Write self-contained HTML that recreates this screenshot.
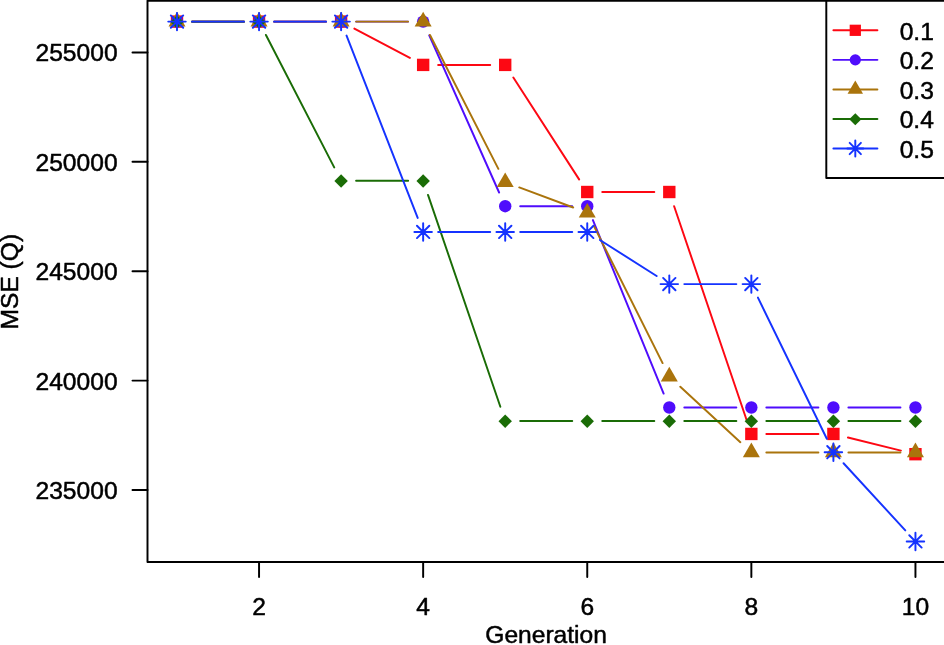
<!DOCTYPE html>
<html lang="en"><head><meta charset="utf-8"><title>MSE (Q) by Generation</title>
<style>html,body{margin:0;padding:0;background:#fff}body{width:944px;height:645px;overflow:hidden}svg{display:block}text{font-family:"Liberation Sans",Arial,Helvetica,sans-serif;font-size:24.6px;fill:#000;stroke:#000;stroke-width:0.5px}</style></head><body>
<svg width="944" height="645" viewBox="0 0 944 645" stroke-width="1.95" stroke-linecap="round" stroke-linejoin="round">
<rect width="944" height="645" fill="#fff"/>
<g><path d="M192 21.6L244.05 21.6M274.05 21.6L326.1 21.6M354.37 28.6L409.88 57.9M438.15 64.9L490.2 64.9M513.34 77.5L579.11 179.4M602.25 192L654.3 192M674.12 206.21L746.53 419.74M766.35 433.95L818.4 433.95M847.96 437.54L900.89 450.61" stroke="#FD0813" fill="none"/>
<rect x="170.81" y="15.41" width="12.38" height="12.38" fill="#FD0813"/>
<rect x="252.86" y="15.41" width="12.38" height="12.38" fill="#FD0813"/>
<rect x="334.91" y="15.41" width="12.38" height="12.38" fill="#FD0813"/>
<rect x="416.96" y="58.71" width="12.38" height="12.38" fill="#FD0813"/>
<rect x="499.01" y="58.71" width="12.38" height="12.38" fill="#FD0813"/>
<rect x="581.06" y="185.81" width="12.38" height="12.38" fill="#FD0813"/>
<rect x="663.11" y="185.81" width="12.38" height="12.38" fill="#FD0813"/>
<rect x="745.16" y="427.76" width="12.38" height="12.38" fill="#FD0813"/>
<rect x="827.21" y="427.76" width="12.38" height="12.38" fill="#FD0813"/>
<rect x="909.26" y="448.01" width="12.38" height="12.38" fill="#FD0813"/>
</g>
<g><path d="M192 21.6L244.05 21.6M274.05 21.6L326.1 21.6M356.1 21.6L408.15 21.6M429.24 35.31L499.11 192.49M520.2 206.2L572.25 206.2M592.91 220.09L663.64 393.61M684.3 407.5L736.35 407.5M766.35 407.5L818.4 407.5M848.4 407.5L900.45 407.5" stroke="#4F0DFC" fill="none"/>
<circle cx="177" cy="21.6" r="6.19" fill="#4F0DFC"/>
<circle cx="259.05" cy="21.6" r="6.19" fill="#4F0DFC"/>
<circle cx="341.1" cy="21.6" r="6.19" fill="#4F0DFC"/>
<circle cx="423.15" cy="21.6" r="6.19" fill="#4F0DFC"/>
<circle cx="505.2" cy="206.2" r="6.19" fill="#4F0DFC"/>
<circle cx="587.25" cy="206.2" r="6.19" fill="#4F0DFC"/>
<circle cx="669.3" cy="407.5" r="6.19" fill="#4F0DFC"/>
<circle cx="751.35" cy="407.5" r="6.19" fill="#4F0DFC"/>
<circle cx="833.4" cy="407.5" r="6.19" fill="#4F0DFC"/>
<circle cx="915.45" cy="407.5" r="6.19" fill="#4F0DFC"/>
</g>
<g><path d="M192 21.6L244.05 21.6M274.05 21.6L326.1 21.6M356.1 21.6L408.15 21.6M429.97 34.96L498.38 168.84M519.26 187.43L573.19 207.47M593.97 226.11L662.58 363.09M680.31 386.69L740.34 442.21M766.35 452.4L818.4 452.4M848.4 452.4L900.45 452.4" stroke="#AA740C" fill="none"/>
<polygon points="177,11.79 185.5,26.51 168.5,26.51" fill="#AA740C"/>
<polygon points="259.05,11.79 267.55,26.51 250.55,26.51" fill="#AA740C"/>
<polygon points="341.1,11.79 349.6,26.51 332.6,26.51" fill="#AA740C"/>
<polygon points="423.15,11.79 431.65,26.51 414.65,26.51" fill="#AA740C"/>
<polygon points="505.2,172.39 513.7,187.11 496.7,187.11" fill="#AA740C"/>
<polygon points="587.25,202.89 595.75,217.61 578.75,217.61" fill="#AA740C"/>
<polygon points="669.3,366.69 677.8,381.41 660.8,381.41" fill="#AA740C"/>
<polygon points="751.35,442.59 759.85,457.31 742.85,457.31" fill="#AA740C"/>
<polygon points="833.4,442.59 841.9,457.31 824.9,457.31" fill="#AA740C"/>
<polygon points="915.45,442.59 923.95,457.31 906.95,457.31" fill="#AA740C"/>
</g>
<g><path d="M192 21.6L244.05 21.6M265.93 34.93L334.22 167.37M356.1 180.7L408.15 180.7M428 194.89L500.35 406.71M520.2 420.9L572.25 420.9M602.25 420.9L654.3 420.9M684.3 420.9L736.35 420.9M766.35 420.9L818.4 420.9M848.4 420.9L900.45 420.9" stroke="#1A6C06" fill="none"/>
<polygon points="170.29,21.9 177,15.19 183.71,21.9 177,28.61" fill="#1A6C06"/>
<polygon points="252.34,21.9 259.05,15.19 265.76,21.9 259.05,28.61" fill="#1A6C06"/>
<polygon points="334.39,181 341.1,174.29 347.81,181 341.1,187.71" fill="#1A6C06"/>
<polygon points="416.44,181 423.15,174.29 429.86,181 423.15,187.71" fill="#1A6C06"/>
<polygon points="498.49,421.2 505.2,414.49 511.91,421.2 505.2,427.91" fill="#1A6C06"/>
<polygon points="580.54,421.2 587.25,414.49 593.96,421.2 587.25,427.91" fill="#1A6C06"/>
<polygon points="662.59,421.2 669.3,414.49 676.01,421.2 669.3,427.91" fill="#1A6C06"/>
<polygon points="744.64,421.2 751.35,414.49 758.06,421.2 751.35,427.91" fill="#1A6C06"/>
<polygon points="826.69,421.2 833.4,414.49 840.11,421.2 833.4,427.91" fill="#1A6C06"/>
<polygon points="908.74,421.2 915.45,414.49 922.16,421.2 915.45,427.91" fill="#1A6C06"/>
</g>
<g><path d="M192 21.6L244.05 21.6M274.05 21.6L326.1 21.6M346.55 35.57L417.7 217.93M438.15 231.9L490.2 231.9M520.2 231.9L572.25 231.9M599.91 239.95L656.64 276.05M684.3 284.1L736.35 284.1M757.93 297.58L826.82 438.72M843.55 463.24L905.3 530.36" stroke="#1533FF" fill="none"/>
<path d="M168.25 21.6H185.75M177 12.85V30.35M170.81 15.41L183.19 27.79M170.81 27.79L183.19 15.41" stroke="#1533FF" fill="none"/>
<path d="M250.3 21.6H267.8M259.05 12.85V30.35M252.86 15.41L265.24 27.79M252.86 27.79L265.24 15.41" stroke="#1533FF" fill="none"/>
<path d="M332.35 21.6H349.85M341.1 12.85V30.35M334.91 15.41L347.29 27.79M334.91 27.79L347.29 15.41" stroke="#1533FF" fill="none"/>
<path d="M414.4 231.9H431.9M423.15 223.15V240.65M416.96 225.71L429.34 238.09M416.96 238.09L429.34 225.71" stroke="#1533FF" fill="none"/>
<path d="M496.45 231.9H513.95M505.2 223.15V240.65M499.01 225.71L511.39 238.09M499.01 238.09L511.39 225.71" stroke="#1533FF" fill="none"/>
<path d="M578.5 231.9H596M587.25 223.15V240.65M581.06 225.71L593.44 238.09M581.06 238.09L593.44 225.71" stroke="#1533FF" fill="none"/>
<path d="M660.55 284.1H678.05M669.3 275.35V292.85M663.11 277.91L675.49 290.29M663.11 290.29L675.49 277.91" stroke="#1533FF" fill="none"/>
<path d="M742.6 284.1H760.1M751.35 275.35V292.85M745.16 277.91L757.54 290.29M745.16 290.29L757.54 277.91" stroke="#1533FF" fill="none"/>
<path d="M824.65 452.2H842.15M833.4 443.45V460.95M827.21 446.01L839.59 458.39M827.21 458.39L839.59 446.01" stroke="#1533FF" fill="none"/>
<path d="M906.7 541.4H924.2M915.45 532.65V550.15M909.26 535.21L921.64 547.59M909.26 547.59L921.64 535.21" stroke="#1533FF" fill="none"/>
</g>
<g stroke="#000" fill="none">
<path d="M147.5 0.7H946V561.9H147.5V0.7Z"/>
<path d="M259.05 561.9v15M423.15 561.9v15M587.25 561.9v15M751.35 561.9v15M915.45 561.9v15M147.5 52.4h-15M147.5 161.8h-15M147.5 271.2h-15M147.5 380.6h-15M147.5 490h-15"/>
</g>
<text x="259.05" y="615.2" text-anchor="middle">2</text>
<text x="423.15" y="615.2" text-anchor="middle">4</text>
<text x="587.25" y="615.2" text-anchor="middle">6</text>
<text x="751.35" y="615.2" text-anchor="middle">8</text>
<text x="915.45" y="615.2" text-anchor="middle">10</text>
<text x="117.6" y="61.3" text-anchor="end">255000</text>
<text x="117.6" y="170.7" text-anchor="end">250000</text>
<text x="117.6" y="280.1" text-anchor="end">245000</text>
<text x="117.6" y="389.5" text-anchor="end">240000</text>
<text x="117.6" y="498.9" text-anchor="end">235000</text>
<text x="546.1" y="642.7" text-anchor="middle">Generation</text>
<text transform="translate(18.3 281.7) rotate(-90)" text-anchor="middle">MSE (Q)</text>
<rect x="826.3" y="0.7" width="119.7" height="177.3" fill="#fff" stroke="#000"/>
<path d="M833.4 30.3H877.4" stroke="#FD0813"/>
<rect x="849.67" y="24.68" width="11.25" height="11.25" fill="#FD0813"/>
<text x="899.7" y="39.7">0.1</text>
<path d="M833.4 59.85H877.4" stroke="#4F0DFC"/>
<circle cx="855.3" cy="59.85" r="5.62" fill="#4F0DFC"/>
<text x="899.7" y="69.25">0.2</text>
<path d="M833.4 89.4H877.4" stroke="#AA740C"/>
<polygon points="855.3,80.48 863.03,93.86 847.57,93.86" fill="#AA740C"/>
<text x="899.7" y="98.8">0.3</text>
<path d="M833.4 118.95H877.4" stroke="#1A6C06"/>
<polygon points="849.2,119.25 855.3,113.15 861.4,119.25 855.3,125.35" fill="#1A6C06"/>
<text x="899.7" y="128.35">0.4</text>
<path d="M833.4 148.5H877.4" stroke="#1533FF"/>
<path d="M847.35 148.5H863.25M855.3 140.55V156.45M849.67 142.88L860.92 154.12M849.67 154.12L860.92 142.88" stroke="#1533FF" fill="none"/>
<text x="899.7" y="157.9">0.5</text>
</svg></body></html>
